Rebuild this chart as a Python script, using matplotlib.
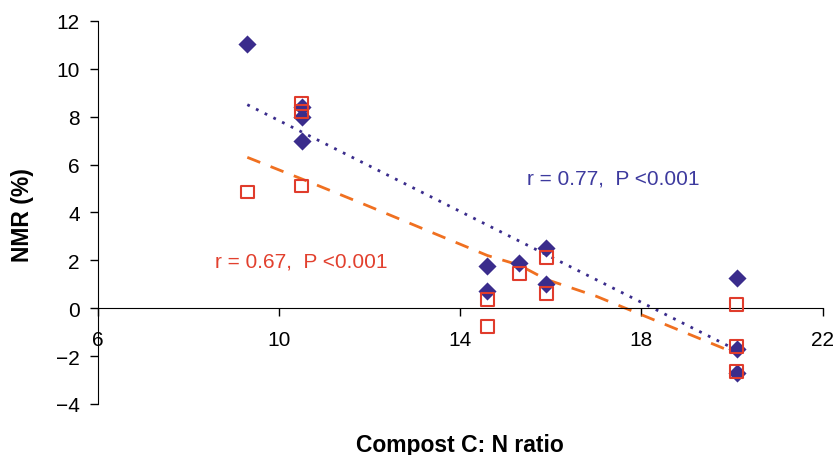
import numpy as np
import matplotlib.pyplot as plt

# compost C:N ratio vs NMR
cn_blue = [9.3, 10.5, 10.5, 10.5, 14.6, 14.6, 15.3, 15.9, 15.9, 20.1, 20.1, 20.1]
nmr_blue = [11.05, 8.4, 8.0, 7.0, 1.75, 0.72, 1.88, 2.5, 1.0, 1.25, -1.7, -2.7]

cn_red = [9.3, 10.5, 10.5, 10.5, 14.6, 14.6, 15.3, 15.9, 15.9, 20.1, 20.1, 20.1]
nmr_red = [4.85, 8.55, 8.2, 5.1, 0.35, -0.75, 1.45, 2.1, 0.62, 0.15, -1.6, -2.65]

# trend lines
trend_blue_x = [9.3, 20.1]
trend_blue_y = [8.5, -1.75]
trend_red_x = [9.3, 10.5, 11.8, 14.6, 15.3, 15.9, 17.0, 20.1]
trend_red_y = [6.3, 5.4, 4.4, 2.2, 1.8, 1.2, 0.5, -1.9]

xticks = [6, 10, 14, 18, 22]
yticks = [-4, -2, 0, 2, 4, 6, 8, 10, 12]

plt.rcParams['font.family'] = ['Liberation Sans', 'DejaVu Sans']

blue = '#3a2c8c'
red = '#e03c2c'
orange = '#f07020'

fig = plt.figure(figsize=(8.36, 4.56), dpi=100)
ax = fig.add_axes([0.117, 0.112, 0.867, 0.84])

ax.plot(trend_blue_x, trend_blue_y, color=blue, lw=2, ls=(0, (1, 2.5)), zorder=2)
ax.plot(trend_red_x, trend_red_y, color=orange, lw=2, ls=(0, (5, 4)), zorder=2)

ax.scatter(cn_blue, nmr_blue, marker='D', s=85, color=blue, lw=0, zorder=3)
ax.scatter(cn_red, nmr_red, marker='s', s=85, facecolor='none', edgecolor=red, lw=1.5, zorder=4)

ax.text(15.47, 5.44, 'r = 0.77,  P <0.001', color='#3d3a9e', fontsize=15, va='center')
ax.text(8.58, 1.95, 'r = 0.67,  P <0.001', color='#e2402e', fontsize=15, va='center')

ax.set_xlim(6, 22)
ax.set_ylim(-4, 12)
ax.set_xticks(xticks)
ax.set_yticks(yticks)
ax.set_yticklabels([str(v).replace('-', '\u2212') for v in yticks])
ax.spines['bottom'].set_position(('data', 0))
ax.spines['top'].set_visible(False)
ax.spines['right'].set_visible(False)
ax.tick_params(axis='both', labelsize=15, length=6, width=1, direction='out')
ax.tick_params(axis='x', pad=10)
ax.tick_params(axis='y', pad=7)

fig.text(0.55, 0.024, 'Compost C: N ratio', ha='center', va='center', fontsize=16.5, fontweight='bold')
fig.text(0.027, 0.528, 'NMR (%)', ha='center', va='center', rotation=90, fontsize=16.5, fontweight='bold')

fig.savefig('out.png', dpi=100)
